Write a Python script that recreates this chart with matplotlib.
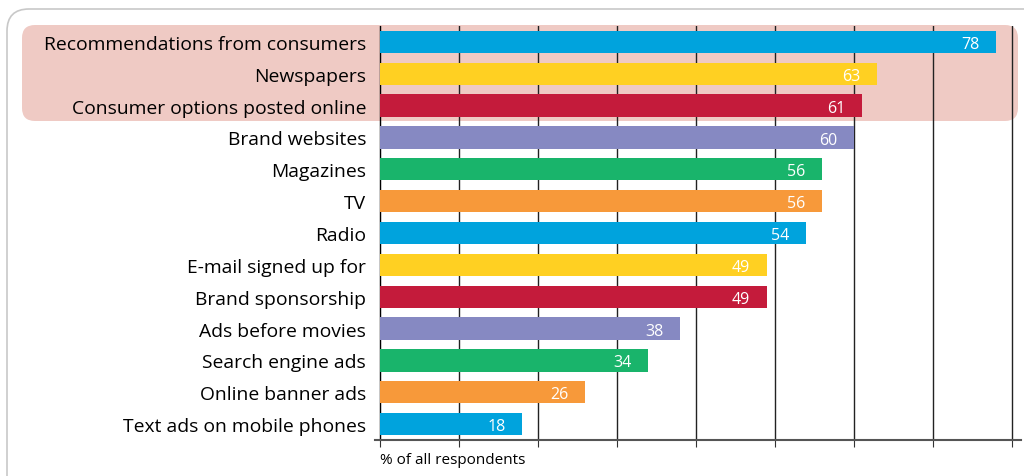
import numpy as np
import matplotlib
matplotlib.use("Agg")
import matplotlib.pyplot as plt
from matplotlib.patches import FancyBboxPatch

# bronnen van vertrouwen in reclame, % van alle respondenten
categories = ["Recommendations from consumers", "Newspapers", "Consumer options posted online",
              "Brand websites", "Magazines", "TV", "Radio", "E-mail signed up for",
              "Brand sponsorship", "Ads before movies", "Search engine ads",
              "Online banner ads", "Text ads on mobile phones"]
values = [78, 63, 61, 60, 56, 56, 54, 49, 49, 38, 34, 26, 18]
palette = ["#00A3DD", "#FFD022", "#C41B3B", "#8689C2", "#19B46B", "#F7993A"]
kleuren = [palette[i % len(palette)] for i in range(len(values))]

plt.rcParams['font.family'] = ['Open Sans', 'DejaVu Sans']

W, H = 1024, 477
fig = plt.figure(figsize=(W / 100, H / 100), dpi=100)

# buitenste kader en roze markering (in pixels omgerekend naar figuur-coordinaten)
def box(x0, y0, x1, y1, r, **kw):
    p = FancyBboxPatch((x0 / W, 1 - y1 / H), (x1 - x0) / W, (y1 - y0) / H,
                       boxstyle="round,pad=0,rounding_size=%f" % (r / W),
                       transform=fig.transFigure, mutation_aspect=W / H, **kw)
    fig.patches.append(p)

box(7, 10, 1060, 520, 22, facecolor="white", edgecolor="#C8C8C8", linewidth=1.2, zorder=0)
box(22, 26, 1018, 122, 13, facecolor="#EFCAC4", edgecolor="none", zorder=1)

ax = fig.add_axes([375.3 / W, 1 - 441 / H, (1021 - 375.3) / W, 414 / H])
ax.set_zorder(5)
ax.patch.set_alpha(0)

y = np.arange(len(values))
ax.barh(y, values, height=0.7, color=kleuren, zorder=3)
for yy, v in zip(y, values):
    ax.annotate(str(v), (v, yy), xytext=(-12, -1.5), textcoords="offset points",
                ha="right", va="center", color="white", fontsize=11.5)

ax.set_xlim(-0.6, 81.2)
ax.set_ylim(12.5, -0.5)
ax.set_xticks(np.arange(0, 90, 10))
ax.set_xticklabels([])
ax.xaxis.grid(True, color="#222222", linewidth=1.0)
ax.set_axisbelow(True)
ax.set_yticks(y)
ax.set_yticklabels(categories)
ax.tick_params(axis="y", length=0, pad=10, labelsize=13.9)
ax.tick_params(axis="x", direction="out", length=5, color="#333333")
for s in ["top", "right"]:
    ax.spines[s].set_visible(False)
ax.spines["left"].set_color("black")
ax.spines["bottom"].set_color("#555555")
ax.spines["bottom"].set_linewidth(1.5)
ax.spines["left"].set_position(("data", 0))

fig.text(380 / W, 1 - 461 / H, "% of all respondents", fontsize=11, va="center", ha="left")

plt.savefig("out.png", dpi=100)
